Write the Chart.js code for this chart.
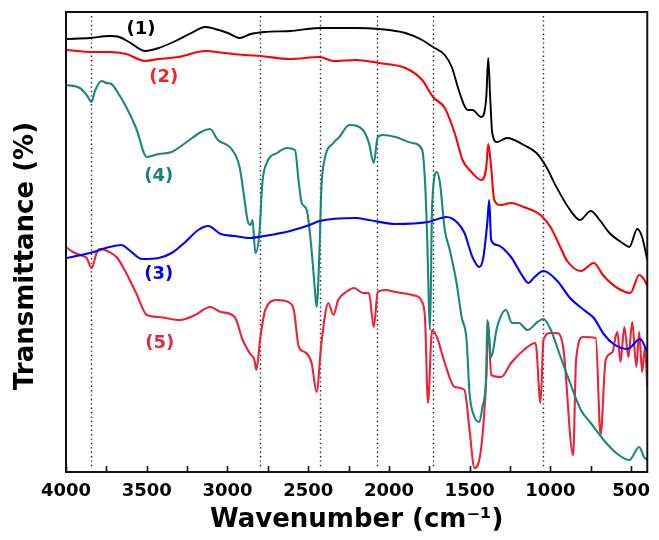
<!DOCTYPE html>
<html>
<head>
<meta charset="utf-8">
<script src="https://cdn.jsdelivr.net/npm/chart.js@4.4.1/dist/chart.umd.min.js"></script>
<style>
  html, body { margin: 0; padding: 0; background: #fff; }
  canvas { display: block; }
</style>
</head>
<body>
<canvas id="ftir" width="659" height="540"></canvas>
<script>
// ── DATA (wavenumber cm-1, transmittance a.u.) ──
const CURVE_1 = [[4000,86.6],[3853,86.8],[3731,87.2],[3670,87.0],[3609,86.0],[3511,84.2],[3426,84.8],[3322,86.2],[3224,87.8],[3138,89.0],[3077,88.6],[2998,87.8],[2925,86.8],[2857,87.6],[2772,88.0],[2613,88.2],[2430,88.8],[2204,88.8],[2063,88.6],[1898,87.8],[1794,86.4],[1727,85.0],[1654,83.4],[1611,81.0],[1562,75.8],[1513,72.4],[1483,72.4],[1428,71.0],[1397,75.0],[1385,82.8],[1373,75.0],[1360,67.8],[1330,66.0],[1269,66.8],[1165,65.4],[1086,63.8],[1025,61.0],[963,57.0],[878,52.4],[817,50.4],[750,52.2],[695,50.4],[634,47.8],[554,45.8],[511,45.0],[462,48.6],[432,47.0],[400,42.4]];

const CURVE_2 = [[4000,84.4],[3835,84.0],[3731,84.0],[3627,83.6],[3511,82.2],[3426,82.6],[3303,83.0],[3138,84.2],[3016,83.8],[2894,83.4],[2796,83.2],[2613,82.6],[2430,83.0],[2344,82.2],[2204,82.4],[2063,81.8],[1898,80.8],[1794,78.4],[1727,75.0],[1654,72.8],[1593,67.8],[1544,62.4],[1489,60.0],[1428,58.4],[1397,61.0],[1385,65.6],[1367,61.0],[1348,54.4],[1305,53.4],[1244,53.8],[1165,53.0],[1061,51.4],[1000,49.0],[939,45.0],[896,42.2],[811,40.2],[731,41.8],[670,39.2],[585,36.8],[505,35.8],[450,39.4],[414,38.2],[400,37.2]];

const CURVE_3 = [[4000,42.8],[3853,43.8],[3731,45.0],[3658,45.4],[3609,44.4],[3529,42.6],[3426,42.8],[3346,43.8],[3261,46.0],[3181,48.4],[3120,49.2],[3041,47.6],[2955,47.2],[2863,46.8],[2772,47.2],[2613,48.2],[2491,49.4],[2430,50.2],[2204,50.8],[2124,50.4],[1959,49.6],[1758,50.0],[1642,51.0],[1574,49.8],[1532,47.8],[1483,43.0],[1440,41.0],[1415,43.0],[1391,49.8],[1379,54.4],[1367,46.4],[1330,45.4],[1244,43.0],[1177,39.4],[1135,37.8],[1104,38.8],[1043,40.2],[957,38.2],[878,34.8],[792,32.4],[731,30.8],[670,27.6],[609,25.6],[523,24.6],[444,26.6],[400,24.0]];

const CURVE_4 = [[4000,77.4],[3914,76.8],[3872,75.4],[3841,74.0],[3823,76.0],[3780,78.2],[3750,77.8],[3719,77.6],[3670,75.4],[3627,73.0],[3566,68.8],[3499,63.0],[3426,63.6],[3346,64.0],[3261,65.8],[3163,68.0],[3108,68.6],[3059,66.4],[2980,64.8],[2925,61.0],[2894,54.4],[2876,50.4],[2857,49.4],[2845,50.4],[2827,43.8],[2802,47.8],[2784,57.8],[2754,62.0],[2693,63.8],[2631,64.8],[2582,64.4],[2558,57.8],[2540,53.8],[2509,52.4],[2479,44.4],[2460,37.0],[2448,33.0],[2430,44.4],[2418,57.0],[2399,62.4],[2344,65.8],[2307,67.0],[2246,69.4],[2161,68.4],[2124,65.8],[2094,61.8],[2069,67.0],[2039,67.4],[1959,67.0],[1855,65.8],[1794,64.4],[1776,57.8],[1764,47.8],[1745,28.4],[1733,53.0],[1703,60.0],[1684,57.8],[1654,48.4],[1623,44.4],[1581,37.8],[1550,31.0],[1519,26.4],[1501,15.8],[1470,11.0],[1440,10.0],[1421,13.0],[1397,19.8],[1391,30.4],[1367,23.0],[1330,29.0],[1275,32.4],[1238,29.8],[1196,29.8],[1141,28.4],[1080,30.0],[1043,30.6],[1000,28.6],[939,23.2],[878,17.8],[811,12.4],[750,9.8],[670,6.4],[585,3.6],[511,2.4],[450,5.0],[420,3.0],[400,2.4]];

const CURVE_5 = [[4000,45.0],[3957,44.0],[3914,43.4],[3872,42.8],[3841,40.8],[3811,43.8],[3792,44.6],[3731,44.0],[3682,42.8],[3627,39.8],[3566,35.8],[3499,31.4],[3426,31.0],[3291,30.4],[3200,31.4],[3108,33.0],[3041,32.0],[2955,31.0],[2906,26.4],[2863,23.8],[2833,22.4],[2821,20.4],[2796,27.0],[2766,32.4],[2693,34.4],[2613,33.8],[2589,32.4],[2558,25.0],[2521,24.0],[2479,21.8],[2448,16.0],[2418,25.8],[2375,33.8],[2344,31.4],[2314,34.4],[2265,36.0],[2216,36.8],[2161,35.8],[2124,35.8],[2094,29.0],[2069,36.0],[2020,36.4],[1959,36.0],[1855,35.4],[1794,34.0],[1776,30.4],[1758,13.8],[1733,28.4],[1703,27.0],[1654,21.8],[1593,17.0],[1532,16.4],[1501,8.4],[1470,0.8],[1428,5.0],[1397,19.0],[1385,30.0],[1367,19.4],[1305,19.0],[1244,21.8],[1165,24.4],[1092,25.8],[1061,13.8],[1043,26.4],[1000,27.8],[963,27.8],[921,25.0],[859,3.4],[841,22.4],[798,27.0],[719,26.8],[689,7.4],[658,22.4],[615,24.0],[597,27.0],[585,28.0],[566,22.0],[542,29.0],[517,23.0],[493,30.0],[468,21.0],[450,28.0],[432,20.0],[414,25.0],[400,17.0]];

const TICK_VALUES = [4000,3750,3500,3250,3000,2750,2500,2250,2000,1750,1500,1250,1000,750,500];
const PEAK_LINES = [3843,2797,2430,2072,1727,1045];

const TAG_TEXT = ['(1)','(2)','(3)','(4)','(5)'];
const TAG_WN   = [3536, 3395, 3426, 3426, 3420];
const TAG_T    = [88.6, 79.0, 39.6, 59.2, 25.8];

// ── STYLE ──
const FONT = "'DejaVu Sans'";
const LINE_COLORS = ['#000000', '#ff0000', '#0000ff', '#17877f', '#ec2236'];
const TAG_COLORS  = ['#000000', '#ff1f1f', '#0000ee', '#1a807a', '#e8283c'];

Chart.defaults.font.family = FONT;

const toXY = pts => pts.map(p => ({ x: p[0], y: p[1] }));

const overlay = {
  id: 'overlay',
  beforeDatasetsDraw(chart) {
    const { ctx, chartArea: a, scales: { x } } = chart;
    ctx.save();
    ctx.strokeStyle = '#222';
    ctx.lineWidth = 1.4;
    ctx.setLineDash([1.4, 3]);
    PEAK_LINES.forEach(w => {
      const px = Math.round(x.getPixelForValue(w)) + 0.5;
      ctx.beginPath();
      ctx.moveTo(px, a.top + 4);
      ctx.lineTo(px, a.bottom - 5);
      ctx.stroke();
    });
    ctx.restore();
  },
  afterDatasetsDraw(chart) {
    const { ctx, chartArea: a, scales: { x, y } } = chart;
    ctx.save();

    // frame
    ctx.strokeStyle = '#111';
    ctx.lineWidth = 2;
    ctx.strokeRect(a.left, a.top, a.right - a.left, a.bottom - a.top);

    // inward ticks
    ctx.lineWidth = 1.6;
    TICK_VALUES.forEach(v => {
      const px = Math.round(x.getPixelForValue(v)) + 0.5;
      ctx.beginPath();
      ctx.moveTo(px, a.bottom);
      ctx.lineTo(px, a.bottom - 6);
      ctx.stroke();
    });

    // curve tags
    ctx.font = `bold 18px ${FONT}`;
    ctx.textAlign = 'center';
    ctx.textBaseline = 'middle';
    TAG_TEXT.forEach((t, i) => {
      ctx.fillStyle = TAG_COLORS[i];
      ctx.fillText(t, x.getPixelForValue(TAG_WN[i]), y.getPixelForValue(TAG_T[i]));
    });

    // y title
    ctx.fillStyle = '#000';
    ctx.font = `bold 26px ${FONT}`;
    ctx.translate(26, 256);
    ctx.rotate(-Math.PI / 2);
    ctx.fillText('Transmittance (%)', 0, 0);
    ctx.restore();
  }
};

new Chart(document.getElementById('ftir'), {
  type: 'line',
  data: {
    datasets: [CURVE_1, CURVE_2, CURVE_3, CURVE_4, CURVE_5].map((c, i) => ({
      data: toXY(c),
      borderColor: LINE_COLORS[i],
      borderWidth: i === 0 ? 1.9 : 2.1,
      pointRadius: 0,
      cubicInterpolationMode: 'monotone',
      fill: false,
    })),
  },
  options: {
    responsive: false,
    animation: false,
    devicePixelRatio: 1,
    layout: { padding: { top: 12, right: 3, left: 0, bottom: 0 } },
    plugins: { legend: { display: false }, tooltip: { enabled: false } },
    scales: {
      x: {
        type: 'linear',
        reverse: true,
        min: 400,
        max: 4000,
        afterBuildTicks: s => { s.ticks = TICK_VALUES.map(v => ({ value: v })); },
        afterFit: s => { s.height = 68; },
        grid: { display: false, drawTicks: false },
        border: { display: false },
        ticks: {
          autoSkip: false,
          maxRotation: 0,
          padding: 9,
          color: '#000',
          font: { size: 18, weight: 'bold', family: FONT },
          callback: v => (v % 500 === 0 ? String(v) : ''),
        },
        title: {
          display: true,
          text: 'Wavenumber (cm⁻¹)',
          color: '#000',
          padding: { top: 4, bottom: 4 },
          font: { size: 26, weight: 'bold', family: FONT },
        },
      },
      y: {
        min: 0,
        max: 92,
        afterFit: s => { s.width = 66; },
        grid: { display: false, drawTicks: false },
        border: { display: false },
        ticks: { display: false },
      },
    },
  },
  plugins: [overlay],
});
</script>
</body>
</html>
